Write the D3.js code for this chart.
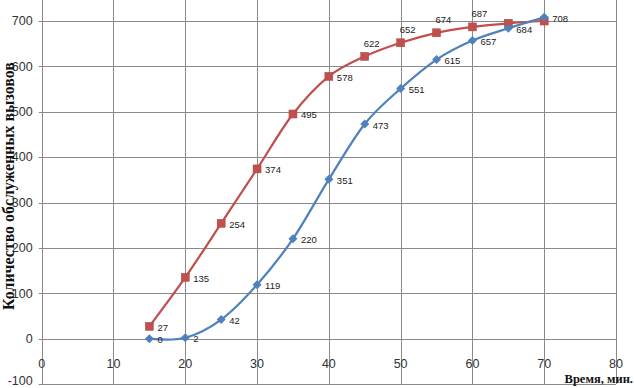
<!DOCTYPE html>
<html><head><meta charset="utf-8">
<script src="https://cdn.jsdelivr.net/npm/d3@7"></script>
<style>
html,body{margin:0;padding:0;background:#fff;}
svg{display:block;}
</style></head>
<body>
<svg id="c" width="634" height="388"></svg>
<script>
const times = [15, 20, 25, 30, 35, 40, 45, 50, 55, 60, 65, 70];
const redValues = [27, 135, 254, 374, 495, 578, 622, 652, 674, 687, 695, 700];
const blueValues = [0, 2, 42, 119, 220, 351, 473, 551, 615, 657, 684, 708];
const redLabelShown = [true, true, true, true, true, true, true, true, true, true, false, false];
const xTicks = [0, 10, 20, 30, 40, 50, 60, 70, 80];
const yTicks = [-100, 0, 100, 200, 300, 400, 500, 600, 700, 800];
const xTitle = "Время, мин.";
const yTitle = "Количество обслуженных вызовов";

const svg = d3.select("#c");
const x = d3.scaleLinear().domain([0, 80]).range([41.7, 616]);
const y = d3.scaleLinear().domain([-100, 700]).range([384, 21]);

const tickFont = "'Liberation Sans Narrow','Liberation Sans',Arial,sans-serif";
const grid = "#8a8a8a";

// horizontal grid
svg.append("g").selectAll("line").data(yTicks).join("line")
  .attr("x1", x(0) - 3).attr("x2", x(80))
  .attr("y1", d => Math.round(y(d)) + 0.5).attr("y2", d => Math.round(y(d)) + 0.5)
  .attr("stroke", grid).attr("stroke-width", 1);
// vertical grid
svg.append("g").selectAll("line").data(xTicks).join("line")
  .attr("x1", d => Math.round(x(d)) + 0.5).attr("x2", d => Math.round(x(d)) + 0.5)
  .attr("y1", y(-100)).attr("y2", y(800))
  .attr("stroke", grid).attr("stroke-width", 1);

// y tick labels
svg.append("g").selectAll("text").data(yTicks.filter(d => d <= 700)).join("text")
  .attr("x", 32.7).attr("y", d => Math.min(y(d) + 4.3, 384.5))
  .attr("text-anchor", "end")
  .attr("font-family", tickFont).attr("font-size", 12.5).attr("fill", "#333")
  .text(d => d);
// x tick labels
svg.append("g").selectAll("text").data(xTicks).join("text")
  .attr("x", d => x(d)).attr("y", y(0) + 29)
  .attr("text-anchor", "middle")
  .attr("font-family", tickFont).attr("font-size", 12.5).attr("fill", "#333")
  .text(d => d);

const line = d3.line().curve(d3.curveCardinal.tension(0))
  .x(d => x(d[0])).y(d => y(d[1]));

const blue = times.map((t, i) => [t, blueValues[i]]);
const red = times.map((t, i) => [t, redValues[i]]);
const blueC = "#4F81BD", redC = "#C0504D";

svg.append("path").attr("d", line(red)).attr("fill", "none")
  .attr("stroke", redC).attr("stroke-width", 2.25);
svg.append("path").attr("d", line(blue)).attr("fill", "none")
  .attr("stroke", blueC).attr("stroke-width", 2.25);

// red squares
svg.append("g").selectAll("rect").data(red).join("rect")
  .attr("x", d => x(d[0]) - 4).attr("y", d => y(d[1]) - 4)
  .attr("width", 8).attr("height", 8)
  .attr("fill", redC).attr("stroke", "#b04543").attr("stroke-width", 0.5);
// blue diamonds
svg.append("g").selectAll("path").data(blue).join("path")
  .attr("d", d => { const cx = x(d[0]), cy = y(d[1]), r = 4.5;
    return `M${cx},${cy - r}L${cx + r},${cy}L${cx},${cy + r}L${cx - r},${cy}Z`; })
  .attr("fill", blueC);

const lblFont = "'Liberation Sans Narrow','Liberation Sans',Arial,sans-serif";
// blue labels (right)
svg.append("g").selectAll("text").data(blue).join("text")
  .attr("x", d => x(d[0]) + 8).attr("y", d => y(d[1]) + 4.5)
  .attr("font-family", lblFont).attr("font-size", 9.5).attr("fill", "#222")
  .text(d => d[1]);
// red labels: right for lower, above for upper
svg.append("g").selectAll("text").data(red.filter((d, i) => redLabelShown[i])).join("text")
  .attr("x", d => d[0] >= 45 ? x(d[0]) - 1 : x(d[0]) + 8)
  .attr("y", d => d[0] >= 45 ? y(d[1]) - 9.6 : y(d[1]) + 4.3)
  .attr("font-family", lblFont).attr("font-size", 9.5).attr("fill", "#222")
  .text(d => d[1]);

// axis titles
svg.append("text").attr("x", 633).attr("y", 383)
  .attr("text-anchor", "end")
  .attr("font-family", "'Liberation Serif','Times New Roman',serif")
  .attr("font-weight", "bold").attr("font-size", 12.5).attr("fill", "#111")
  .text(xTitle);
const yt = svg.append("text")
  .attr("transform", "translate(14,186) rotate(-90)")
  .attr("text-anchor", "middle")
  .attr("font-family", "'Liberation Serif','Times New Roman',serif")
  .attr("font-weight", "bold").attr("font-size", 13).attr("fill", "#111")
  .text(yTitle);
const len = yt.node().getComputedTextLength();
yt.attr("font-size", 13 * 248 / len);
</script>
</body></html>
